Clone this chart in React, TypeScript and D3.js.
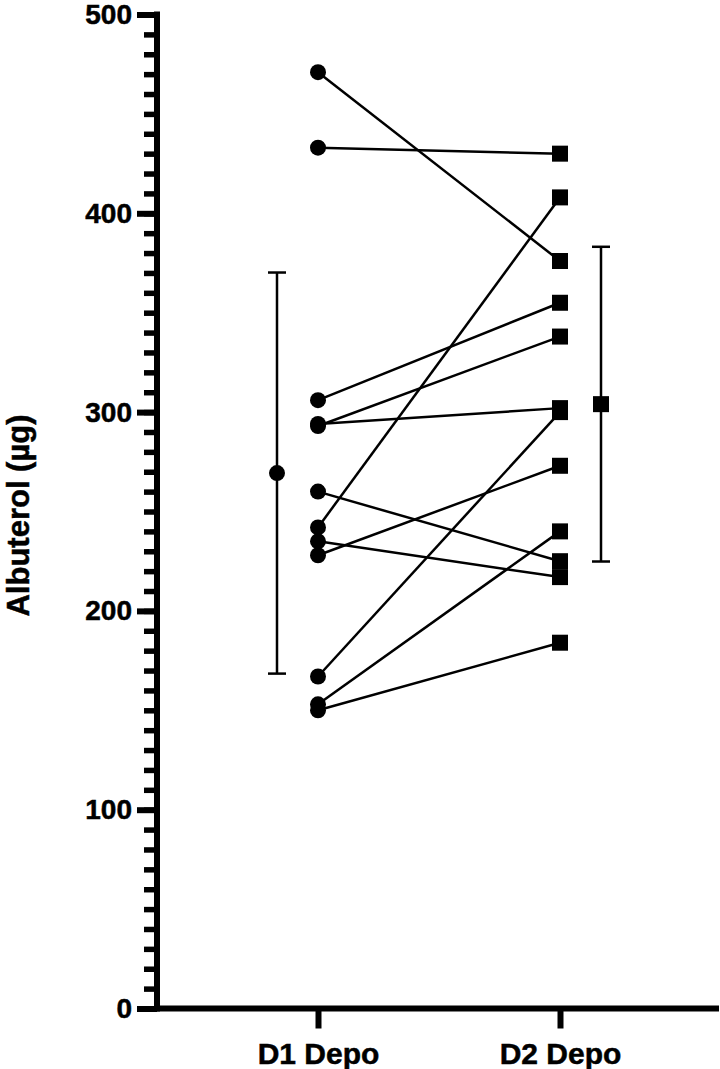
import React, { useRef, useEffect } from 'react';
import * as d3 from 'd3';

// paired values, index i in both arrays is the same subject
const categories = ['D1 Depo', 'D2 Depo'];
const d1Depo = [471, 433, 306, 293, 294, 260, 242, 235, 228, 167, 153, 150];
const d2Depo = [376, 430, 355, 338, 302, 225, 408, 217, 273, 300, 240, 184];
const majorTicks = [0, 100, 200, 300, 400, 500];
const yTitle = 'Albuterol (µg)';

const W = 720;
const H = 1069;
const FONT = '"Liberation Sans", Arial, Helvetica, sans-serif';

const App = () => {
  const axisRef = useRef<SVGGElement>(null);

  const y = d3.scaleLinear().domain([0, 500]).range([1008.5, 14.5]);
  const x = d3.scalePoint().domain(categories).range([318, 560]);
  const axisX = 157;
  const xEnd = 719;
  const meanOffset = 41;

  const series = [d1Depo, d2Depo];
  const stats = series.map(s => ({ mean: d3.mean(s) as number, sd: d3.deviation(s) as number }));

  useEffect(() => {
    if (!axisRef.current) return;
    const g = d3.select(axisRef.current);
    g.selectAll('*').remove();

    // minor ticks every 10
    g.append('g')
      .attr('transform', `translate(${axisX},0)`)
      .call(d3.axisLeft(y).tickValues(d3.range(0, 501, 10)).tickSize(13).tickFormat(() => ''))
      .call(a => a.select('.domain').remove())
      .call(a => a.selectAll('.tick line').attr('stroke', '#000').attr('stroke-width', 5.5));

    // major ticks with labels
    g.append('g')
      .attr('transform', `translate(${axisX},0)`)
      .call(d3.axisLeft(y).tickValues(majorTicks).tickSize(20).tickPadding(5).tickFormat(d3.format('d')))
      .call(a => a.select('.domain').remove())
      .call(a => a.selectAll('.tick line').attr('stroke', '#000').attr('stroke-width', 6))
      .call(a => a.selectAll('.tick text')
        .attr('fill', '#000')
        .attr('stroke', '#000')
        .attr('stroke-width', 0.5)
        .style('font-family', FONT)
        .style('font-weight', 'bold')
        .style('font-size', '28px'));

    // category axis
    g.append('g')
      .attr('transform', `translate(0,${y(0)})`)
      .call(d3.axisBottom(x).tickSize(20).tickPadding(14))
      .call(a => a.select('.domain').remove())
      .call(a => a.selectAll('.tick line').attr('stroke', '#000').attr('stroke-width', 6))
      .call(a => a.selectAll('.tick text')
        .attr('fill', '#000')
        .attr('stroke', '#000')
        .attr('stroke-width', 0.5)
        .style('font-family', FONT)
        .style('font-weight', 'bold')
        .style('font-size', '30px'));

    // axis lines
    g.append('line')
      .attr('x1', axisX).attr('x2', axisX)
      .attr('y1', y(0) + 3).attr('y2', y(500) - 3)
      .attr('stroke', '#000').attr('stroke-width', 6);
    g.append('line')
      .attr('x1', axisX - 3).attr('x2', xEnd)
      .attr('y1', y(0)).attr('y2', y(0))
      .attr('stroke', '#000').attr('stroke-width', 6);
  }, []);

  const x0 = x(categories[0]) as number;
  const x1 = x(categories[1]) as number;

  return (
    <svg width={W} height={H} style={{ position: 'absolute', left: 0, top: 0, background: '#fff' }}>
      <rect width={W} height={H} fill="#fff" />
      <g ref={axisRef} />

      <text
        transform={`translate(29,${(y(0) + y(500)) / 2 + 4}) rotate(-90)`}
        textAnchor="middle"
        fontFamily={FONT}
        fontWeight="bold"
        fontSize={31}
        fill="#000"
        stroke="#000"
        strokeWidth={0.5}
      >
        {yTitle}
      </text>

      {/* paired lines */}
      {d1Depo.map((v, i) => (
        <line key={`l${i}`} x1={x0} y1={y(v)} x2={x1} y2={y(d2Depo[i])} stroke="#000" strokeWidth={2.5} />
      ))}

      {d1Depo.map((v, i) => (
        <circle key={`c${i}`} cx={x0} cy={y(v)} r={8} fill="#000" />
      ))}
      {d2Depo.map((v, i) => (
        <rect key={`s${i}`} x={x1 - 8} y={y(v) - 8} width={16} height={16} fill="#000" />
      ))}

      {/* mean +/- SD */}
      {stats.map((s, i) => {
        const cx = i === 0 ? x0 - meanOffset : x1 + meanOffset;
        return (
          <g key={`m${i}`} stroke="#000" strokeWidth={2.5}>
            <line x1={cx} x2={cx} y1={y(s.mean - s.sd)} y2={y(s.mean + s.sd)} />
            <line x1={cx - 9} x2={cx + 9} y1={y(s.mean - s.sd)} y2={y(s.mean - s.sd)} />
            <line x1={cx - 9} x2={cx + 9} y1={y(s.mean + s.sd)} y2={y(s.mean + s.sd)} />
            {i === 0
              ? <circle cx={cx} cy={y(s.mean)} r={8} fill="#000" stroke="none" />
              : <rect x={cx - 8} y={y(s.mean) - 8} width={16} height={16} fill="#000" stroke="none" />}
          </g>
        );
      })}
    </svg>
  );
};

export default App;
